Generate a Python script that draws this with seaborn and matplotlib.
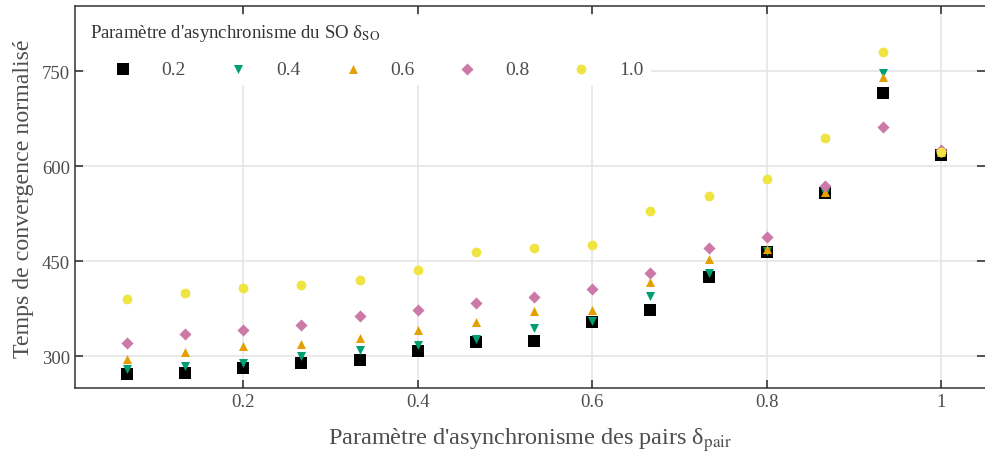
import matplotlib
matplotlib.use("Agg")
import matplotlib.pyplot as plt
import seaborn as sns
import pandas as pd

# delta_pair = k/15
delta_pair = [k / 15 for k in range(1, 16)]
so_levels = ["0.2", "0.4", "0.6", "0.8", "1.0"]

conv_02 = [273, 274, 281, 290, 295, 309, 323, 324, 355, 373, 426, 465, 558, 716, 618]
conv_04 = [280, 285, 290, 300, 310, 318, 328, 345, 356, 395, 432, 467, 558, 747, 620]
conv_06 = [296, 307, 316, 320, 329, 341, 355, 372, 374, 417, 454, 470, 559, 741, 622]
conv_08 = [321, 336, 342, 349, 364, 374, 385, 394, 407, 432, 471, 488, 568, 661, 626]
conv_10 = [390, 400, 408, 412, 420, 437, 464, 471, 475, 529, 553, 580, 645, 780, 623]

series = [conv_02, conv_04, conv_06, conv_08, conv_10]
df = pd.concat([pd.DataFrame({"delta_pair": delta_pair, "temps": vals, "so": lvl})
                for lvl, vals in zip(so_levels, series)], ignore_index=True)

colors = {"0.2": "#000000", "0.4": "#009E73", "0.6": "#E69F00", "0.8": "#CC79A7", "1.0": "#F0E442"}
markers = {"0.2": "s", "0.4": "v", "0.6": "^", "0.8": "D", "1.0": "o"}
sizes = {"0.2": 66, "0.4": 42, "0.6": 42, "0.8": 38, "1.0": 50}

sns.set_theme(style="ticks")
plt.rcParams["font.family"] = ["Liberation Serif", "DejaVu Serif"]
plt.rcParams["mathtext.fontset"] = "stix"

fig = plt.figure(figsize=(9.85, 4.6), dpi=100)
ax = fig.add_axes([0.076, 0.154, 0.924, 0.83])

for lvl in so_levels:
    sns.scatterplot(data=df[df["so"] == lvl], x="delta_pair", y="temps",
                    color=colors[lvl], marker=markers[lvl], s=sizes[lvl],
                    linewidth=0, label=lvl, ax=ax, zorder=3)

ax.set_xlim(0.007, 1.05)
ax.set_ylim(250, 852)
ax.set_xticks([0.2, 0.4, 0.6, 0.8, 1.0])
ax.set_xticklabels(["0.2", "0.4", "0.6", "0.8", "1"])
ax.set_yticks([300, 450, 600, 750])
ax.grid(True, color="#e5e5e5", linewidth=1.2, zorder=0)
ax.set_axisbelow(True)

for side in ["left", "bottom", "top"]:
    ax.spines[side].set_color("#333333")
    ax.spines[side].set_linewidth(1.1)
ax.spines["right"].set_visible(False)
ax.tick_params(axis="both", direction="in", length=6, width=1.3, color="#444444",
               labelsize=13.5, labelcolor="#4d4d4d", top=True, right=True)

ax.set_xlabel("Paramètre d'asynchronisme des pairs δ$_{\\mathrm{pair}}$",
              fontsize=17.5, color="#4d4d4d", labelpad=11)
ax.set_ylabel("Temps de convergence normalisé", fontsize=17.2, color="#4d4d4d", labelpad=6)

leg = ax.legend(title="Paramètre d'asynchronisme du SO δ$_{\\mathrm{SO}}$",
                loc="upper left", bbox_to_anchor=(0.0, 1.0), ncol=5,
                frameon=True, facecolor="white", edgecolor="white", framealpha=1,
                fontsize=14, title_fontsize=13.5, handletextpad=0.26,
                columnspacing=0.98, handlelength=3.4, borderpad=0.3,
                labelspacing=0.9, alignment="left")
for t in leg.get_texts():
    t.set_color("#4d4d4d")
leg.get_title().set_color("#333333")
leg.set_zorder(2)

fig.savefig("out.png", dpi=100)
